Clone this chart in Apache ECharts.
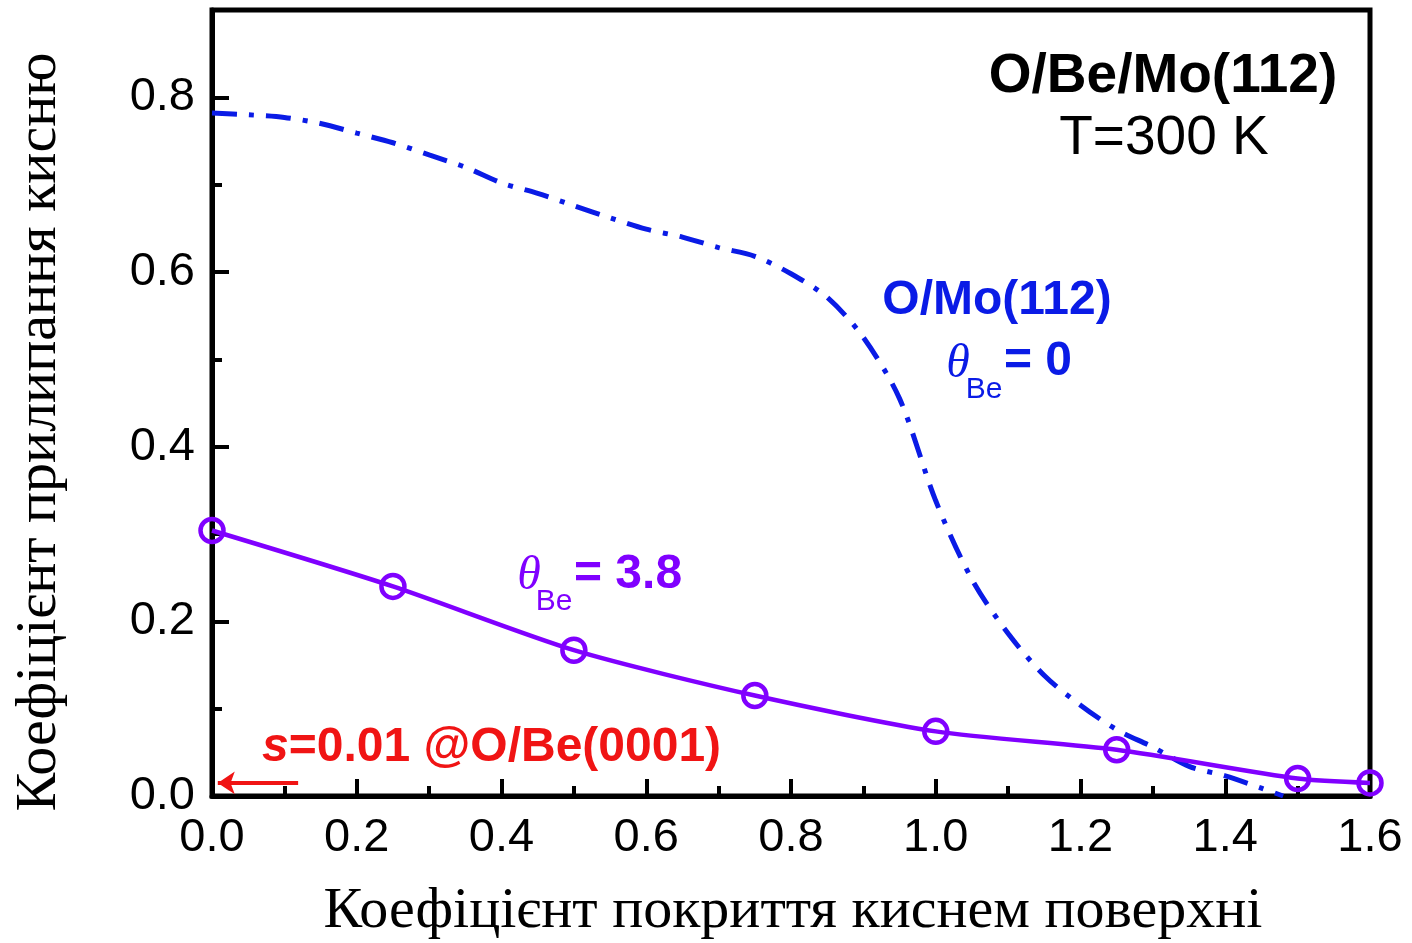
<!DOCTYPE html>
<html>
<head>
<meta charset="utf-8">
<script src="https://cdn.jsdelivr.net/npm/echarts@6/dist/echarts.min.js"></script>
<style>
  html, body { margin: 0; padding: 0; background: #fff; }
  #chart { width: 1412px; height: 943px; }
</style>
</head>
<body>
<div id="chart"></div>
<script>
// Oxygen coverage (x) for the Be-covered surface, measured points
const coverageBe = [0, 0.25, 0.5, 0.75, 1.0, 1.25, 1.5, 1.6];
const stickingBe = [0.304, 0.240, 0.167, 0.115, 0.074, 0.053, 0.020, 0.015];

// Clean O/Mo(112) sticking curve
const coverageMo = [0, 0.05, 0.1, 0.15, 0.2, 0.25, 0.3, 0.35, 0.4, 0.45, 0.5, 0.55, 0.6, 0.65, 0.7, 0.75,
                    0.8, 0.85, 0.9, 0.95, 1.0, 1.05, 1.1, 1.15, 1.2, 1.25, 1.3, 1.35, 1.4, 1.45, 1.48];
const stickingMo = [0.782, 0.780, 0.777, 0.770, 0.759, 0.748, 0.734, 0.720, 0.702, 0.690, 0.676, 0.662, 0.649, 0.640, 0.628, 0.618,
                    0.598, 0.571, 0.525, 0.455, 0.338, 0.248, 0.186, 0.138, 0.104, 0.076, 0.056, 0.034, 0.023, 0.009, 0.0];

// Reference value for O/Be(0001), drawn as an arrow toward the y axis
const arrowX = [0.119, 0.008];
const arrowY = 0.015;

// Axis ticks
const xTicks = [0, 0.2, 0.4, 0.6, 0.8, 1.0, 1.2, 1.4, 1.6];
const yMajor = [0, 0.2, 0.4, 0.6, 0.8];
const yMinor = [0.1, 0.3, 0.5, 0.7];

const SANS = "'Liberation Sans', Arial, sans-serif";
const SERIF = "'Liberation Serif', 'Times New Roman', serif";
const BLUE = '#0a1be6';
const PURPLE = '#8000ff';
const RED = '#f01414';

const chart = echarts.init(document.getElementById('chart'), null, { renderer: 'canvas' });

const grid = { left: 212, right: 42, top: 10, bottom: 147 };

const option = {
  backgroundColor: '#fff',
  animation: false,
  grid: Object.assign({ show: true, borderColor: '#000', borderWidth: 5, backgroundColor: 'transparent' }, grid),
  xAxis: {
    type: 'value',
    min: xTicks[0],
    max: xTicks[xTicks.length - 1],
    interval: 0.2,
    axisLine: { show: true, lineStyle: { color: '#000', width: 5 } },
    axisTick: { show: true, inside: true, length: 17, lineStyle: { color: '#000', width: 4 } },
    minorTick: { show: true, splitNumber: 2, length: 10, lineStyle: { color: '#000', width: 4 } },
    splitLine: { show: false },
    minorSplitLine: { show: false },
    axisLabel: {
      margin: 19, color: '#000', fontSize: 47, fontFamily: SANS,
      formatter: v => v.toFixed(1)
    }
  },
  yAxis: [
    {
      type: 'value',
      min: 0,
      max: 0.9,
      axisLine: { show: true, lineStyle: { color: '#000', width: 5 } },
      axisTick: { show: true, inside: true, length: 17, customValues: yMajor, lineStyle: { color: '#000', width: 4 } },
      splitLine: { show: false },
      axisLabel: {
        margin: 17, color: '#000', fontSize: 47, fontFamily: SANS,
        customValues: yMajor,
        formatter: v => v.toFixed(1)
      }
    },
    {
      type: 'value',
      min: 0,
      max: 0.9,
      position: 'left',
      axisLine: { show: false },
      axisTick: { show: true, inside: true, length: 10, customValues: yMinor, lineStyle: { color: '#000', width: 4 } },
      splitLine: { show: false },
      axisLabel: { show: false }
    }
  ],
  series: [
    {
      name: 'O/Mo(112)',
      type: 'line',
      data: coverageMo.map((x, i) => [x, stickingMo[i]]),
      smooth: 0.3,
      showSymbol: false,
      symbol: 'none',
      lineStyle: { color: BLUE, width: 5, type: [25, 12, 5, 12], cap: 'butt' },
      z: 3
    },
    {
      name: 'θBe = 3.8',
      type: 'line',
      data: coverageBe.map((x, i) => [x, stickingBe[i]]),
      smooth: 0.25,
      clip: false,
      symbol: 'circle',
      symbolSize: 23,
      showAllSymbol: true,
      itemStyle: { color: 'rgba(0,0,0,0)', borderColor: PURPLE, borderWidth: 4.5 },
      lineStyle: { color: PURPLE, width: 4.5 },
      z: 4
    },
    {
      name: 'O/Be(0001)',
      type: 'line',
      data: [],
      markLine: {
        silent: true,
        symbol: ['none', 'arrow'],
        symbolSize: 17,
        label: { show: false },
        lineStyle: { color: RED, width: 4, type: 'solid' },
        data: [[{ coord: [arrowX[0], arrowY] }, { coord: [arrowX[1], arrowY] }]]
      },
      z: 5
    }
  ],
  graphic: [
    // axis titles
    {
      type: 'text', x: 793, y: 912, z: 10,
      style: { text: 'Коефіцієнт покриття киснем поверхні', font: '58px ' + SERIF, fill: '#000',
               textAlign: 'center', textVerticalAlign: 'middle' }
    },
    {
      type: 'text', x: 40, y: 432, rotation: Math.PI / 2, z: 10,
      style: { text: 'Коефіцієнт прилипання кисню', font: '58px ' + SERIF, fill: '#000',
               textAlign: 'center', textVerticalAlign: 'middle' }
    },
    // system labels
    {
      type: 'text', x: 1163, y: 77, z: 10,
      style: { text: 'O/Be/Mo(112)', font: 'bold 55px ' + SANS, fill: '#000',
               textAlign: 'center', textVerticalAlign: 'middle' }
    },
    {
      type: 'text', x: 1164, y: 139, z: 10,
      style: { text: 'T=300 K', font: '55px ' + SANS, fill: '#000',
               textAlign: 'center', textVerticalAlign: 'middle' }
    },
    // clean-surface curve label
    {
      type: 'text', x: 997, y: 301, z: 10,
      style: { text: 'O/Mo(112)', font: 'bold 48px ' + SANS, fill: BLUE,
               textAlign: 'center', textVerticalAlign: 'middle' }
    },
    {
      type: 'text', x: 958, y: 364, z: 10,
      style: { text: 'θ', font: 'italic 48px ' + SERIF, fill: BLUE,
               textAlign: 'center', textVerticalAlign: 'middle' }
    },
    {
      type: 'text', x: 984, y: 390, z: 10,
      style: { text: 'Be', font: '30px ' + SANS, fill: BLUE,
               textAlign: 'center', textVerticalAlign: 'middle' }
    },
    {
      type: 'text', x: 1004, y: 362, z: 10,
      style: { text: '= 0', font: 'bold 48px ' + SANS, fill: BLUE,
               textAlign: 'left', textVerticalAlign: 'middle' }
    },
    // Be-covered curve label
    {
      type: 'text', x: 529, y: 576, z: 10,
      style: { text: 'θ', font: 'italic 48px ' + SERIF, fill: PURPLE,
               textAlign: 'center', textVerticalAlign: 'middle' }
    },
    {
      type: 'text', x: 554, y: 602, z: 10,
      style: { text: 'Be', font: '30px ' + SANS, fill: PURPLE,
               textAlign: 'center', textVerticalAlign: 'middle' }
    },
    {
      type: 'text', x: 574, y: 575, z: 10,
      style: { text: '= 3.8', font: 'bold 48px ' + SANS, fill: PURPLE,
               textAlign: 'left', textVerticalAlign: 'middle' }
    },
    // O/Be(0001) reference label
    {
      type: 'text', x: 262, y: 748, z: 10,
      style: {
        text: '{s|s}{t|=0.01 @O/Be(0001)}',
        textAlign: 'left', textVerticalAlign: 'middle',
        rich: {
          s: { font: 'italic bold 48px ' + SANS, fill: RED, color: RED },
          t: { font: 'bold 48px ' + SANS, fill: RED, color: RED }
        }
      }
    }
  ]
};

chart.setOption(option);
</script>
</body>
</html>
